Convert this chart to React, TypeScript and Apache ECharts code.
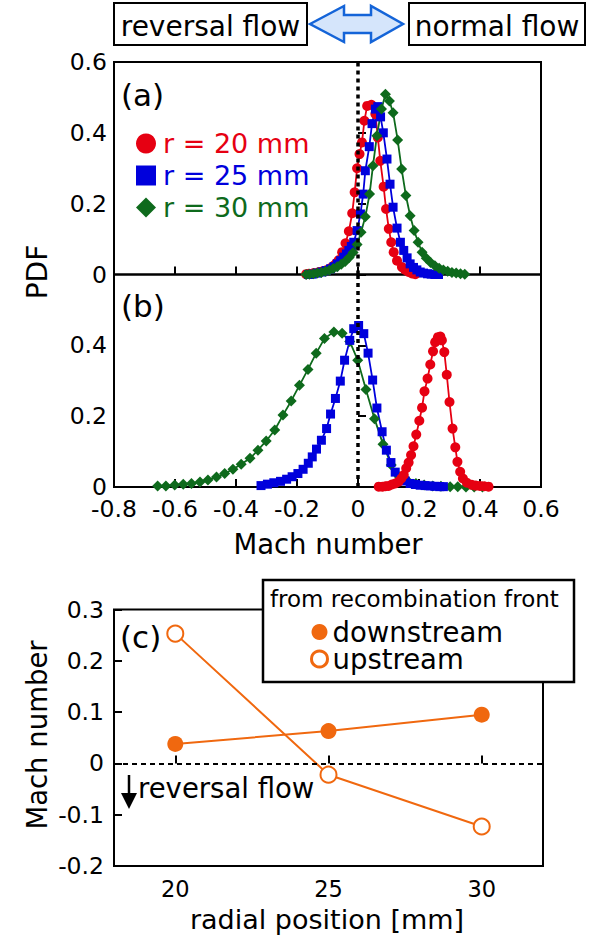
import React, { useEffect, useRef } from 'react';
import * as echarts from 'echarts';

const FONT = '"DejaVu Sans", sans-serif';
const RED = '#e60012';
const BLUE = '#0000dc';
const GREEN = '#0e6a1c';
const ORANGE = '#f0680f';

// ---- panel (a) ----
const aRedX = [-0.170, -0.161, -0.145, -0.128, -0.114, -0.101, -0.090, -0.079, -0.071, -0.063, -0.052, -0.041, -0.030, -0.019, -0.011, -0.003, 0.005, 0.013, 0.021, 0.030, 0.044, 0.057, 0.065, 0.073, 0.084, 0.092, 0.101, 0.109, 0.117, 0.128, 0.144, 0.155, 0.166, 0.177, 0.188];
const aRedY = [0.001, 0.002, 0.004, 0.007, 0.010, 0.013, 0.018, 0.025, 0.032, 0.041, 0.063, 0.088, 0.122, 0.173, 0.232, 0.300, 0.340, 0.373, 0.434, 0.476, 0.479, 0.453, 0.387, 0.321, 0.248, 0.185, 0.129, 0.091, 0.063, 0.039, 0.021, 0.013, 0.007, 0.003, 0.001];

const aBlueX = [-0.162, -0.150, -0.134, -0.118, -0.104, -0.090, -0.079, -0.068, -0.057, -0.047, -0.038, -0.030, -0.022, -0.014, -0.003, 0.008, 0.017, 0.024, 0.037, 0.046, 0.057, 0.065, 0.074, 0.083, 0.095, 0.105, 0.115, 0.128, 0.139, 0.150, 0.161, 0.171, 0.182, 0.193, 0.204, 0.215, 0.228, 0.240, 0.252, 0.264];
const aBlueY = [0.000, 0.001, 0.004, 0.007, 0.011, 0.016, 0.022, 0.030, 0.039, 0.049, 0.058, 0.068, 0.079, 0.091, 0.124, 0.171, 0.227, 0.293, 0.361, 0.426, 0.467, 0.474, 0.445, 0.400, 0.326, 0.255, 0.190, 0.131, 0.091, 0.068, 0.047, 0.030, 0.020, 0.013, 0.007, 0.004, 0.002, 0.001, 0.000, 0.000];

const aGreenX = [-0.170, -0.159, -0.146, -0.133, -0.120, -0.107, -0.094, -0.081, -0.068, -0.055, -0.042, -0.029, -0.016, -0.003, 0.010, 0.024, 0.038, 0.049, 0.062, 0.077, 0.090, 0.103, 0.115, 0.130, 0.143, 0.157, 0.171, 0.184, 0.197, 0.210, 0.224, 0.238, 0.252, 0.266, 0.280, 0.294, 0.308, 0.322, 0.336, 0.350];
const aGreenY = [0.000, 0.001, 0.002, 0.004, 0.006, 0.009, 0.012, 0.017, 0.022, 0.029, 0.037, 0.048, 0.062, 0.085, 0.119, 0.163, 0.227, 0.307, 0.392, 0.467, 0.509, 0.490, 0.457, 0.380, 0.298, 0.223, 0.166, 0.124, 0.091, 0.063, 0.046, 0.034, 0.025, 0.018, 0.013, 0.009, 0.006, 0.004, 0.002, 0.001];

// ---- panel (b) ----
const bRedX = [0.068, 0.080, 0.090, 0.100, 0.111, 0.122, 0.133, 0.142, 0.150, 0.158, 0.166, 0.174, 0.182, 0.191, 0.201, 0.210, 0.218, 0.228, 0.237, 0.246, 0.253, 0.262, 0.270, 0.275, 0.283, 0.291, 0.300, 0.310, 0.319, 0.326, 0.335, 0.344, 0.357, 0.373, 0.386, 0.400, 0.414, 0.428];
const bRedY = [0.001, 0.001, 0.002, 0.003, 0.007, 0.010, 0.015, 0.024, 0.034, 0.053, 0.069, 0.090, 0.115, 0.148, 0.187, 0.224, 0.270, 0.306, 0.346, 0.383, 0.409, 0.423, 0.425, 0.414, 0.381, 0.317, 0.240, 0.165, 0.112, 0.071, 0.043, 0.024, 0.012, 0.006, 0.004, 0.003, 0.002, 0.001];

const bBlueX = [-0.318, -0.297, -0.276, -0.254, -0.234, -0.216, -0.197, -0.180, -0.163, -0.150, -0.136, -0.120, -0.103, -0.090, -0.074, -0.058, -0.044, -0.027, -0.014, 0.002, 0.019, 0.033, 0.048, 0.062, 0.079, 0.093, 0.108, 0.122, 0.139, 0.155, 0.171, 0.188, 0.204, 0.220, 0.236, 0.252, 0.268, 0.280];
const bBlueY = [0.004, 0.008, 0.012, 0.016, 0.022, 0.029, 0.038, 0.050, 0.067, 0.085, 0.107, 0.132, 0.165, 0.206, 0.250, 0.299, 0.358, 0.414, 0.447, 0.456, 0.433, 0.378, 0.302, 0.223, 0.156, 0.104, 0.069, 0.042, 0.025, 0.017, 0.010, 0.007, 0.005, 0.004, 0.003, 0.002, 0.001, 0.001];

const bGreenX = [-0.657, -0.630, -0.601, -0.573, -0.546, -0.518, -0.492, -0.464, -0.437, -0.410, -0.383, -0.354, -0.328, -0.301, -0.273, -0.246, -0.219, -0.192, -0.164, -0.137, -0.110, -0.079, -0.052, -0.027, -0.001, 0.026, 0.054, 0.082, 0.109, 0.135, 0.163, 0.190, 0.217, 0.245, 0.272, 0.302, 0.327, 0.354, 0.381, 0.408];
const bGreenY = [0.003, 0.003, 0.006, 0.008, 0.010, 0.014, 0.020, 0.028, 0.038, 0.050, 0.064, 0.081, 0.104, 0.130, 0.161, 0.203, 0.243, 0.287, 0.332, 0.378, 0.419, 0.438, 0.434, 0.411, 0.358, 0.275, 0.193, 0.121, 0.062, 0.029, 0.017, 0.010, 0.006, 0.003, 0.002, 0.001, 0.001, 0.000, 0.000, 0.000];

// ---- panel (c) ----
const cRadius = [20, 25, 30];
const cDownstream = [0.038, 0.063, 0.095];
const cUpstream = [0.253, -0.022, -0.123];
const cXTicks = [20, 25, 30];

const seriesNames = ['r = 20 mm', 'r = 25 mm', 'r = 30 mm'];

const zip = (xs: number[], ys: number[]) => xs.map((x, i) => [x, ys[i]]);

export default function App() {
  const ref = useRef<HTMLDivElement>(null);

  useEffect(() => {
    const chart = echarts.init(ref.current!, null, { renderer: 'svg' });
    const fmt = (v: number) => (Math.abs(v) < 1e-9 ? '0' : (+v).toFixed(1));
    const tickStyle = { inside: true, length: 8, lineStyle: { color: '#000', width: 2 } };
    const labelBase = { color: '#000', fontFamily: FONT, fontSize: 23.5 };

    const pdfX = (gi: number, show: boolean) => ({
      type: 'value', gridIndex: gi, min: -0.8, max: 0.6, interval: 0.2,
      axisLine: { show: false }, splitLine: { show: false }, axisTick: tickStyle,
      axisLabel: { show: show, ...labelBase, margin: 10, formatter: fmt },
    });
    const pdfY = (gi: number, showMax: boolean) => ({
      type: 'value', gridIndex: gi, min: 0, max: 0.6, interval: 0.2,
      axisLine: { show: false }, splitLine: { show: false }, axisTick: tickStyle,
      axisLabel: { ...labelBase, margin: 7, formatter: fmt, showMaxLabel: showMax },
    });

    const pdfSeries = (gi: number, name: string, xs: number[], ys: number[], color: string, symbol: string, size: number, zero: boolean) => {
      const s: any = {
        type: 'line', name, xAxisIndex: gi, yAxisIndex: gi, data: zip(xs, ys),
        symbol, symbolSize: size, showAllSymbol: true,
        lineStyle: { color, width: 1.8 }, itemStyle: { color },
        silent: true,
      };
      if (zero) {
        s.markLine = {
          silent: true, symbol: ['none', 'none'], label: { show: false },
          lineStyle: { color: '#000', type: [4, 4], width: 3.5 },
          data: [{ xAxis: 0 }],
        };
      }
      return s;
    };

    const gridBase = { show: true, borderColor: '#000', borderWidth: 2, backgroundColor: 'transparent', containLabel: false };

    const txt = (text: string, x: number, y: number, size: number, extra: any = {}) => ({
      type: 'text', x, y, z: 10,
      style: { text, fontFamily: FONT, fontSize: size, fill: '#000', textAlign: 'left', textVerticalAlign: 'middle', ...extra },
    });

    chart.setOption({
      animation: false,
      grid: [
        { ...gridBase, left: 114, top: 62, width: 427, height: 212.5 },
        { ...gridBase, left: 114, top: 274.5, width: 427, height: 212.5 },
        { ...gridBase, left: 114, top: 609.5, width: 429, height: 256.5 },
      ],
      xAxis: [
        pdfX(0, false),
        pdfX(1, true),
        {
          type: 'value', gridIndex: 2, min: 18, max: 32,
          axisLine: { show: false }, splitLine: { show: false },
          axisTick: { ...tickStyle, customValues: cXTicks },
          axisLabel: { ...labelBase, fontSize: 22.5, margin: 11, customValues: cXTicks },
        },
      ],
      yAxis: [
        pdfY(0, true),
        pdfY(1, false),
        {
          type: 'value', gridIndex: 2, min: -0.2, max: 0.3, interval: 0.1,
          axisLine: { show: false }, splitLine: { show: false }, axisTick: tickStyle,
          axisLabel: { ...labelBase, margin: 10, formatter: fmt },
        },
      ],
      legend: [
        {
          orient: 'vertical', left: 131, top: 125, itemWidth: 20, itemHeight: 20, itemGap: 5,
          selectedMode: false, z: 10,
          textStyle: { fontFamily: FONT, fontSize: 27, lineHeight: 20, padding: [0, 0, 0, 2] },
          data: [
            { name: seriesNames[0], icon: 'circle', textStyle: { color: RED } },
            { name: seriesNames[1], icon: 'rect', textStyle: { color: BLUE } },
            { name: seriesNames[2], icon: 'diamond', textStyle: { color: GREEN } },
          ],
        },
        {
          orient: 'vertical', left: 305, top: 613, itemWidth: 16, itemHeight: 16, itemGap: -1,
          selectedMode: false, z: 10,
          textStyle: { fontFamily: FONT, fontSize: 27.5, lineHeight: 16, color: '#000', padding: [0, 0, 0, 0] },
          data: [
            { name: 'downstream', icon: 'circle', itemStyle: { color: ORANGE } },
            { name: 'upstream', icon: 'circle', itemStyle: { color: '#fff', borderColor: ORANGE, borderWidth: 3 } },
          ],
        },
      ],
      series: [
        pdfSeries(0, seriesNames[0], aRedX, aRedY, RED, 'circle', 10, true),
        pdfSeries(0, seriesNames[1], aBlueX, aBlueY, BLUE, 'rect', 9, false),
        pdfSeries(0, seriesNames[2], aGreenX, aGreenY, GREEN, 'diamond', 11, false),
        pdfSeries(1, seriesNames[2], bGreenX, bGreenY, GREEN, 'diamond', 11, true),
        pdfSeries(1, seriesNames[1], bBlueX, bBlueY, BLUE, 'rect', 9, false),
        pdfSeries(1, seriesNames[0], bRedX, bRedY, RED, 'circle', 10, false),
        {
          type: 'line', name: 'downstream', xAxisIndex: 2, yAxisIndex: 2, data: zip(cRadius, cDownstream),
          symbol: 'circle', symbolSize: 16, lineStyle: { color: ORANGE, width: 2 }, itemStyle: { color: ORANGE },
          silent: true,
          markLine: {
            silent: true, symbol: ['none', 'none'], label: { show: false },
            lineStyle: { color: '#000', type: [5, 4], width: 2 },
            data: [{ yAxis: 0 }],
          },
        },
        {
          type: 'line', name: 'upstream', xAxisIndex: 2, yAxisIndex: 2, data: zip(cRadius, cUpstream),
          symbol: 'emptyCircle', symbolSize: 16, lineStyle: { color: ORANGE, width: 2 },
          itemStyle: { color: ORANGE, borderColor: ORANGE, borderWidth: 3 },
          silent: true,
        },
      ],
      graphic: [
        // header boxes
        { type: 'rect', z: 5, shape: { x: 114, y: 3, width: 193, height: 42 }, style: { fill: '#fff', stroke: '#000', lineWidth: 2 } },
        { type: 'rect', z: 5, shape: { x: 409, y: 3, width: 176, height: 42 }, style: { fill: '#fff', stroke: '#000', lineWidth: 2 } },
        txt('reversal flow', 210.5, 26, 28, { textAlign: 'center' }),
        txt('normal flow', 497, 26, 28, { textAlign: 'center' }),
        {
          type: 'polygon', z: 5,
          shape: { points: [[310, 24], [344, 6], [344, 15], [371, 15], [371, 6], [403, 24], [371, 42], [371, 33], [344, 33], [344, 42]] },
          style: { fill: '#d5e5fb', stroke: '#1464d8', lineWidth: 2.5 },
        },
        // panel labels
        txt('(a)', 121, 95, 31),
        txt('(b)', 121, 306, 31),
        txt('(c)', 120, 637, 31),
        // axis names
        txt('Mach number', 328, 544, 27.5, { textAlign: 'center' }),
        txt('radial position [mm]', 327, 919, 27, { textAlign: 'center' }),
        { ...txt('Mach number', 37, 735, 27.5, { textAlign: 'center' }), rotation: Math.PI / 2 },
        { ...txt('PDF', 37, 272, 28, { textAlign: 'center' }), rotation: Math.PI / 2 },
        // panel (c) legend box
        { type: 'rect', z: 5, shape: { x: 263, y: 580, width: 311, height: 102 }, style: { fill: '#fff', stroke: '#000', lineWidth: 2.5 } },
        txt('from recombination front', 270, 599, 23),
        // reversal flow arrow (c)
        { type: 'line', z: 10, shape: { x1: 129, y1: 775, x2: 129, y2: 795 }, style: { stroke: '#000', lineWidth: 2.5 } },
        { type: 'polygon', z: 10, shape: { points: [[121, 793], [137, 793], [129, 809]] }, style: { fill: '#000' } },
        txt('reversal flow', 138, 788, 27.5),
      ],
    });

    return () => chart.dispose();
  }, []);

  return <div ref={ref} style={{ position: 'absolute', left: 0, top: 0, width: 596, height: 938 }} />;
}
